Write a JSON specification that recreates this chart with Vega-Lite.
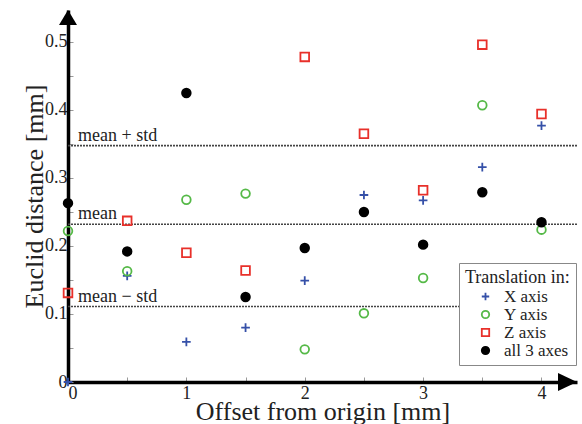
{
  "$schema": "https://vega.github.io/schema/vega-lite/v6.json",
  "width": 509,
  "height": 372,
  "autosize": {"type": "none"},
  "padding": {"left": 68, "top": 10, "right": 5, "bottom": 42},
  "background": "white",
  "config": {
    "view": {"stroke": null},
    "font": "Liberation Serif",
    "axis": {
      "grid": false,
      "domainColor": "black",
      "domainWidth": 3.5,
      "tickColor": "#999",
      "tickWidth": 1,
      "tickSize": -5,
      "labelFont": "Liberation Serif",
      "labelFontSize": 18,
      "labelColor": "#222",
      "titleFont": "Liberation Serif",
      "titleFontSize": 26,
      "titleFontWeight": "normal",
      "titleColor": "#222"
    }
  },
  "datasets": {
    "pts": [
      {"offset": 0, "dist": 0.0, "series": "X axis"},
      {"offset": 0.5, "dist": 0.156, "series": "X axis"},
      {"offset": 1, "dist": 0.059, "series": "X axis"},
      {"offset": 1.5, "dist": 0.080, "series": "X axis"},
      {"offset": 2, "dist": 0.149, "series": "X axis"},
      {"offset": 2.5, "dist": 0.275, "series": "X axis"},
      {"offset": 3, "dist": 0.267, "series": "X axis"},
      {"offset": 3.5, "dist": 0.316, "series": "X axis"},
      {"offset": 4, "dist": 0.377, "series": "X axis"},
      {"offset": 0, "dist": 0.222, "series": "Y axis"},
      {"offset": 0.5, "dist": 0.163, "series": "Y axis"},
      {"offset": 1, "dist": 0.268, "series": "Y axis"},
      {"offset": 1.5, "dist": 0.277, "series": "Y axis"},
      {"offset": 2, "dist": 0.048, "series": "Y axis"},
      {"offset": 2.5, "dist": 0.101, "series": "Y axis"},
      {"offset": 3, "dist": 0.153, "series": "Y axis"},
      {"offset": 3.5, "dist": 0.407, "series": "Y axis"},
      {"offset": 4, "dist": 0.224, "series": "Y axis"},
      {"offset": 0, "dist": 0.131, "series": "Z axis"},
      {"offset": 0.5, "dist": 0.237, "series": "Z axis"},
      {"offset": 1, "dist": 0.190, "series": "Z axis"},
      {"offset": 1.5, "dist": 0.164, "series": "Z axis"},
      {"offset": 2, "dist": 0.478, "series": "Z axis"},
      {"offset": 2.5, "dist": 0.365, "series": "Z axis"},
      {"offset": 3, "dist": 0.282, "series": "Z axis"},
      {"offset": 3.5, "dist": 0.496, "series": "Z axis"},
      {"offset": 4, "dist": 0.394, "series": "Z axis"},
      {"offset": 0, "dist": 0.263, "series": "all 3 axes"},
      {"offset": 0.5, "dist": 0.192, "series": "all 3 axes"},
      {"offset": 1, "dist": 0.425, "series": "all 3 axes"},
      {"offset": 1.5, "dist": 0.125, "series": "all 3 axes"},
      {"offset": 2, "dist": 0.197, "series": "all 3 axes"},
      {"offset": 2.5, "dist": 0.250, "series": "all 3 axes"},
      {"offset": 3, "dist": 0.202, "series": "all 3 axes"},
      {"offset": 3.5, "dist": 0.279, "series": "all 3 axes"},
      {"offset": 4, "dist": 0.235, "series": "all 3 axes"}
    ],
    "lines": [
      {"label": "mean + std", "value": 0.3475, "start": 0, "end": 4.3, "labelX": 0.085},
      {"label": "mean", "value": 0.232, "start": 0, "end": 4.3, "labelX": 0.085},
      {"label": "mean − std", "value": 0.111, "start": 0, "end": 4.3, "labelX": 0.085}
    ],
    "arrowY": [{"offset": 0, "dist": 0.547}],
    "arrowX": [{"offset": 4.3, "dist": 0}]
  },
  "encoding": {
    "x": {
      "field": "offset", "type": "quantitative",
      "scale": {"domain": [0, 4.3], "nice": false, "zero": false},
      "axis": {
        "title": "Offset from origin [mm]",
        "values": [0, 0.5, 1, 1.5, 2, 2.5, 3, 3.5, 4],
        "format": "~g",
        "labelExpr": "datum.value % 1 == 0 ? datum.label : ''",
        "labelPadding": 7,
        "titlePadding": -4
      }
    },
    "y": {
      "field": "dist", "type": "quantitative",
      "scale": {"domain": [0, 0.547], "nice": false, "zero": false},
      "axis": {
        "title": "Euclid distance [mm]",
        "values": [0, 0.05, 0.1, 0.15, 0.2, 0.25, 0.3, 0.35, 0.4, 0.45, 0.5],
        "format": "~g",
        "labelExpr": "abs(round(datum.value * 10) - datum.value * 10) < 0.01 ? datum.label : ''",
        "labelPadding": 6,
        "titlePadding": -3
      }
    }
  },
  "layer": [
    {
      "data": {"name": "lines"},
      "mark": {"type": "rule", "color": "#444", "strokeWidth": 1.6, "strokeDash": [2, 1]},
      "encoding": {
        "x": {"field": "start", "type": "quantitative"},
        "x2": {"field": "end"},
        "y": {"field": "value", "type": "quantitative"}
      }
    },
    {
      "data": {"name": "lines"},
      "mark": {"type": "text", "align": "left", "baseline": "bottom", "dy": -1, "fontSize": 18, "font": "Liberation Serif", "color": "#222"},
      "encoding": {
        "x": {"field": "labelX", "type": "quantitative"},
        "y": {"field": "value", "type": "quantitative"},
        "text": {"field": "label"}
      }
    },
    {
      "data": {"name": "pts"},
      "mark": {"type": "point", "size": 75, "strokeWidth": 1.8, "opacity": 1},
      "encoding": {
        "shape": {
          "field": "series", "type": "nominal",
          "scale": {
            "domain": ["X axis", "Y axis", "Z axis", "all 3 axes"],
            "range": ["M-1,0L1,0M0,-1L0,1", "circle", "square", "circle"]
          },
          "legend": {
            "title": "Translation in:",
            "orient": "none",
            "legendX": 391,
            "legendY": 253,
            "padding": 6,
            "strokeColor": "#888",
            "fillColor": "white",
            "titleFont": "Liberation Serif",
            "titleFontSize": 18,
            "titleFontWeight": "normal",
            "titleColor": "#222",
            "titlePadding": 1,
            "labelFont": "Liberation Serif",
            "labelFontSize": 17,
            "labelColor": "#222",
            "labelOffset": 10,
            "symbolSize": 55,
            "symbolStrokeWidth": 1.8,
            "rowPadding": 0,
            "symbolOffset": 12
          }
        },
        "stroke": {
          "field": "series", "type": "nominal",
          "scale": {
            "domain": ["X axis", "Y axis", "Z axis", "all 3 axes"],
            "range": ["#3550a8", "#55b947", "#e8302a", "black"]
          }
        },
        "fill": {
          "field": "series", "type": "nominal",
          "scale": {
            "domain": ["X axis", "Y axis", "Z axis", "all 3 axes"],
            "range": ["transparent", "transparent", "transparent", "black"]
          }
        }
      }
    },
    {
      "data": {"name": "arrowY"},
      "mark": {"type": "point", "shape": "M0,0L0.9,1.5L-0.9,1.5Z", "size": 400, "filled": true, "color": "black", "opacity": 1},
      "encoding": {}
    },
    {
      "data": {"name": "arrowX"},
      "mark": {"type": "point", "shape": "M0,0L-1.9,-0.9L-1.9,0.9Z", "size": 400, "filled": true, "color": "black", "opacity": 1},
      "encoding": {}
    }
  ]
}
